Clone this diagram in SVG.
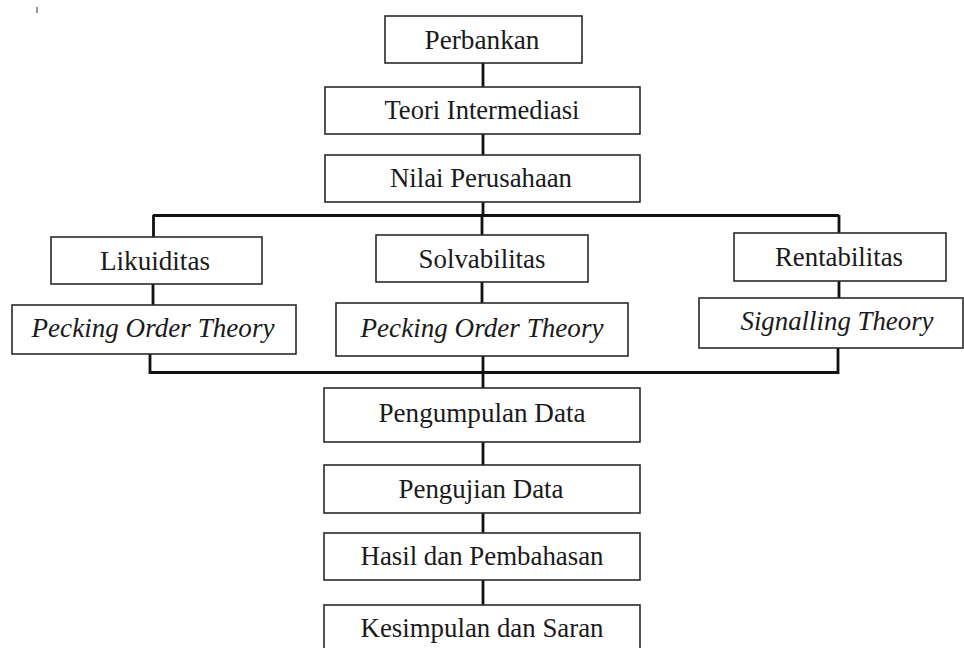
<svg xmlns="http://www.w3.org/2000/svg" width="964" height="648" viewBox="0 0 964 648">
<style>
.box{fill:#fff;stroke:#2a2a2a;stroke-width:1.6}
.t{font-family:"Liberation Serif","Times New Roman",serif;font-size:27px;fill:#1a1a1a;text-anchor:middle}
.i{font-style:italic}
.c{fill:none;stroke:#111;stroke-width:2.8}
</style>
<rect x="0" y="0" width="964" height="648" fill="#fff"/>
<rect x="36" y="7" width="2" height="6" fill="#999"/>
<g id="connectors">
<path class="c" d="M483 63V87M483 134V155M483 202V216M153 215.5H839M153.5 215V237M482 215V235M839 215V233"/>
<path class="c" d="M153 284V305M482 282V303M839 281V298"/>
<path class="c" d="M150 354V372.5H838V348M483 356V388"/>
<path class="c" d="M483 442V465M483 513V533M483 580V605"/>
</g>
<g id="perbankan"><rect class="box" x="385" y="16" width="197" height="47"/><text class="t" x="482" y="49" textLength="115" lengthAdjust="spacingAndGlyphs">Perbankan</text></g>
<g id="teori"><rect class="box" x="325" y="87" width="315" height="47"/><text class="t" x="482" y="119" textLength="195" lengthAdjust="spacingAndGlyphs">Teori Intermediasi</text></g>
<g id="nilai"><rect class="box" x="325" y="155" width="315" height="47"/><text class="t" x="481" y="187" textLength="182" lengthAdjust="spacingAndGlyphs">Nilai Perusahaan</text></g>
<g id="likuiditas"><rect class="box" x="51" y="237" width="211" height="47"/><text class="t" x="155" y="270" textLength="110" lengthAdjust="spacingAndGlyphs">Likuiditas</text></g>
<g id="pecking1"><rect class="box" x="12" y="305" width="284" height="49"/><text class="t i" x="153" y="337" textLength="243" lengthAdjust="spacingAndGlyphs">Pecking Order Theory</text></g>
<g id="solvabilitas"><rect class="box" x="376" y="235" width="212" height="47"/><text class="t" x="482" y="268" textLength="127" lengthAdjust="spacingAndGlyphs">Solvabilitas</text></g>
<g id="pecking2"><rect class="box" x="336" y="303" width="292" height="53"/><text class="t i" x="482" y="337" textLength="243" lengthAdjust="spacingAndGlyphs">Pecking Order Theory</text></g>
<g id="rentabilitas"><rect class="box" x="734" y="233" width="212" height="48"/><text class="t" x="839" y="266" textLength="128" lengthAdjust="spacingAndGlyphs">Rentabilitas</text></g>
<g id="signalling"><rect class="box" x="699" y="298" width="264" height="50"/><text class="t i" x="837" y="330" textLength="193" lengthAdjust="spacingAndGlyphs">Signalling Theory</text></g>
<g id="pengumpulan"><rect class="box" x="324" y="388" width="316" height="54"/><text class="t" x="482" y="422" textLength="207" lengthAdjust="spacingAndGlyphs">Pengumpulan Data</text></g>
<g id="pengujian"><rect class="box" x="324" y="465" width="316" height="48"/><text class="t" x="481" y="498" textLength="165" lengthAdjust="spacingAndGlyphs">Pengujian Data</text></g>
<g id="hasil"><rect class="box" x="324" y="533" width="316" height="47"/><text class="t" x="482" y="565" textLength="243" lengthAdjust="spacingAndGlyphs">Hasil dan Pembahasan</text></g>
<g id="kesimpulan"><rect class="box" x="324" y="605" width="316" height="60"/><text class="t" x="482" y="637" textLength="243" lengthAdjust="spacingAndGlyphs">Kesimpulan dan Saran</text></g>
</svg>
